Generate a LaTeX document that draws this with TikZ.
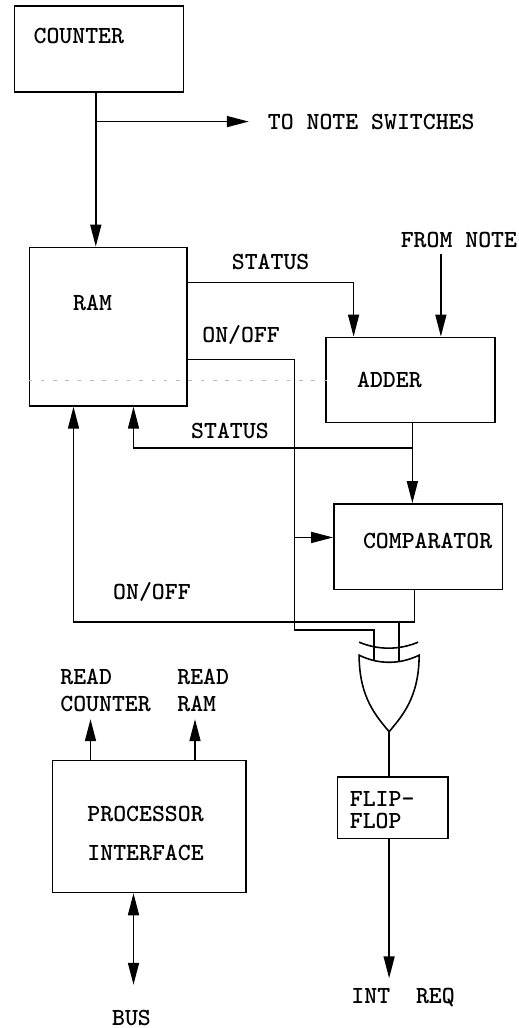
\documentclass[tikz,border=0pt]{standalone}
\usepackage{tikz}
\usetikzlibrary{arrows.meta,positioning}

\begin{document}
\begin{tikzpicture}[
  font=\fontsize{14}{16.5}\selectfont\ttfamily\bfseries,
  box/.style={draw, line width=0.9pt, inner sep=0pt},
  wire/.style={line width=0.9pt},
  ar/.style={wire, -{Triangle[length=4.4mm, width=2.2mm]}},
  biar/.style={wire, {Triangle[length=4.4mm, width=2.2mm]}-{Triangle[length=4.4mm, width=2.2mm]}},
  lbl/.style={inner sep=1pt, align=left},
  fold/.style={gray!55, line width=0.4pt, dash pattern=on 2pt off 5pt}]
  \useasboundingbox (0,0) rectangle (10.36,-20.56);

  % blocks
  \node[box, minimum width=3.38cm, minimum height=1.73cm, anchor=north west,
    label={[xshift=-0.40cm, yshift=0.27cm]center:COUNTER}] (counter) at (0.27,-0.10) {};
  \node[box, minimum width=3.15cm, minimum height=3.17cm,
    below=3.07cm of counter.south west, anchor=north west, xshift=0.30cm,
    label={[xshift=-0.31cm, yshift=0.47cm]center:RAM}] (ram) {};
  \node[box, minimum width=3.38cm, minimum height=1.70cm,
    right=2.75cm of ram.north east, anchor=north west, yshift=-1.80cm,
    label={[xshift=-0.42cm]center:ADDER}] (adder) {};
  \node[box, minimum width=3.37cm, minimum height=1.71cm,
    below=1.60cm of adder.south west, anchor=north west, xshift=0.16cm,
    label={[xshift=0.19cm, yshift=0.11cm]center:COMPARATOR}] (comparator) {};
  \node[box, minimum width=3.87cm, minimum height=2.64cm,
    below=7.06cm of ram.south west, anchor=north west, xshift=0.46cm,
    label={[align=center, xshift=-0.07cm, yshift=-0.14cm]center:PROCESSOR\\[6.2pt]INTERFACE}] (proc) {};
  \node[box, minimum width=2.21cm, minimum height=1.23cm,
    right=1.80cm of proc.north east, anchor=north west, yshift=-0.33cm,
    label={[align=left, xshift=-0.21cm, yshift=-0.05cm]center:FLIP-\\[-4pt]FLOP}] (flipflop) {};

  % fold line in the scan
  \draw[fold] ([yshift=-1.08cm]ram.west) -- ++(6.15,0);

  % counter outputs
  \coordinate (cnt) at ([xshift=-0.06cm]counter.south);
  \coordinate (cbr) at ([yshift=-0.57cm]cnt);
  \draw[ar] (cnt) -- (cnt |- ram.north);
  \node[lbl, right=3.40cm of cbr] (tonote) {TO NOTE SWITCHES};
  \draw[ar] (cbr) -- ([xshift=-0.34cm]tonote.west);

  % from note into adder
  \node[lbl, above=1.73cm of adder.north, xshift=0.97cm] (fromnote) {FROM NOTE};
  \coordinate (fn) at ([xshift=-0.36cm, yshift=-0.07cm]fromnote.south);
  \draw[ar] (fn) -- (fn |- adder.north);

  % status ram -> adder
  \coordinate (ramst) at ([yshift=0.885cm]ram.east);
  \coordinate (addst) at ([xshift=0.57cm]adder.north west);
  \draw[ar] (ramst) -| node[lbl, above=6pt, pos=0.25] {STATUS} (addst);

  % on/off ram -> comparator and gate
  \coordinate (ramon) at ([yshift=-0.655cm]ram.east);
  \coordinate (onj) at ([xshift=-0.77cm, yshift=0.185cm]comparator.west);
  \draw[wire] (ramon) -| node[lbl, above=7pt, pos=0.25] {ON/OFF} (onj);
  \draw[ar] (onj) -- (onj -| comparator.west);

  % gate
  \coordinate (gout) at ([xshift=-0.07cm, yshift=0.89cm]flipflop.north);
  \coordinate (gin1) at ([xshift=-0.30cm, yshift=1.42cm]gout);
  \coordinate (gin2) at ([xshift=0.20cm, yshift=1.40cm]gout);
  \draw[wire] (gout) .. controls +(-0.25,0.30) and +(0,-0.85) .. ++(-0.60,1.53)
    .. controls +(0.38,-0.19) and +(-0.38,-0.19) .. ++(1.20,0)
    .. controls +(0,-0.85) and +(0.25,0.30) .. (gout);
  \draw[wire] ([xshift=-0.60cm, yshift=1.79cm]gout)
    .. controls +(0.38,-0.16) and +(-0.38,-0.16) .. ++(1.18,0);
  \draw[wire] (onj) -- ++(0,-1.85) -| (gin1);

  % comparator output: back to ram and into gate
  \coordinate (cmpout) at ([xshift=-0.07cm]comparator.south);
  \coordinate (fb) at ([yshift=-0.63cm]cmpout);
  \coordinate (ramon2) at ([xshift=0.90cm]ram.south west);
  \draw[ar] (cmpout) -- (fb) -| node[lbl, above=10pt, pos=0.385] {ON/OFF} (ramon2);
  \draw[wire] (fb -| gin2) -- (gin2);

  % status adder -> comparator and ram
  \coordinate (addout) at ([xshift=0.04cm]adder.south);
  \coordinate (stj) at ([yshift=-0.50cm]addout);
  \coordinate (ramst2) at ([xshift=2.10cm]ram.south west);
  \draw[wire] (addout) -- (stj);
  \draw[ar] (stj) -- (stj |- comparator.north);
  \draw[ar] (stj) -| node[lbl, above=4pt, pos=0.327] {STATUS} (ramst2);

  % flip-flop
  \draw[wire, line width=1.2pt] (gout) -- (gout |- flipflop.north);
  \coordinate (intend) at ([xshift=-0.07cm, yshift=-2.78cm]flipflop.south);
  \draw[ar] (intend |- flipflop.south) -- (intend);
  \node[lbl, below=0.165cm of intend, xshift=0.28cm] (intreq) {INT\ \ REQ};

  % processor interface
  \coordinate (rc) at ([xshift=0.78cm, yshift=0.81cm]proc.north west);
  \coordinate (rr) at ([xshift=2.87cm, yshift=0.81cm]proc.north west);
  \draw[ar] (rc |- proc.north) -- (rc);
  \draw[ar] (rr |- proc.north) -- (rr);
  \node[lbl, anchor=south west, font=\fontsize{14}{15.3}\selectfont\ttfamily\bfseries] (rdcnt)
    at ([xshift=-0.645cm, yshift=0.10cm]rc) {READ\\COUNTER};
  \node[lbl, anchor=south west, font=\fontsize{14}{15.3}\selectfont\ttfamily\bfseries] (rdram)
    at ([xshift=-0.395cm, yshift=0.10cm]rr) {READ\\RAM};
  \coordinate (busend) at ([xshift=1.64cm, yshift=-1.83cm]proc.south west);
  \draw[biar] (busend |- proc.south) -- (busend);
  \node[lbl, below=0.47cm of busend, xshift=-0.04cm] (bus) {BUS};
\end{tikzpicture}
\end{document}
